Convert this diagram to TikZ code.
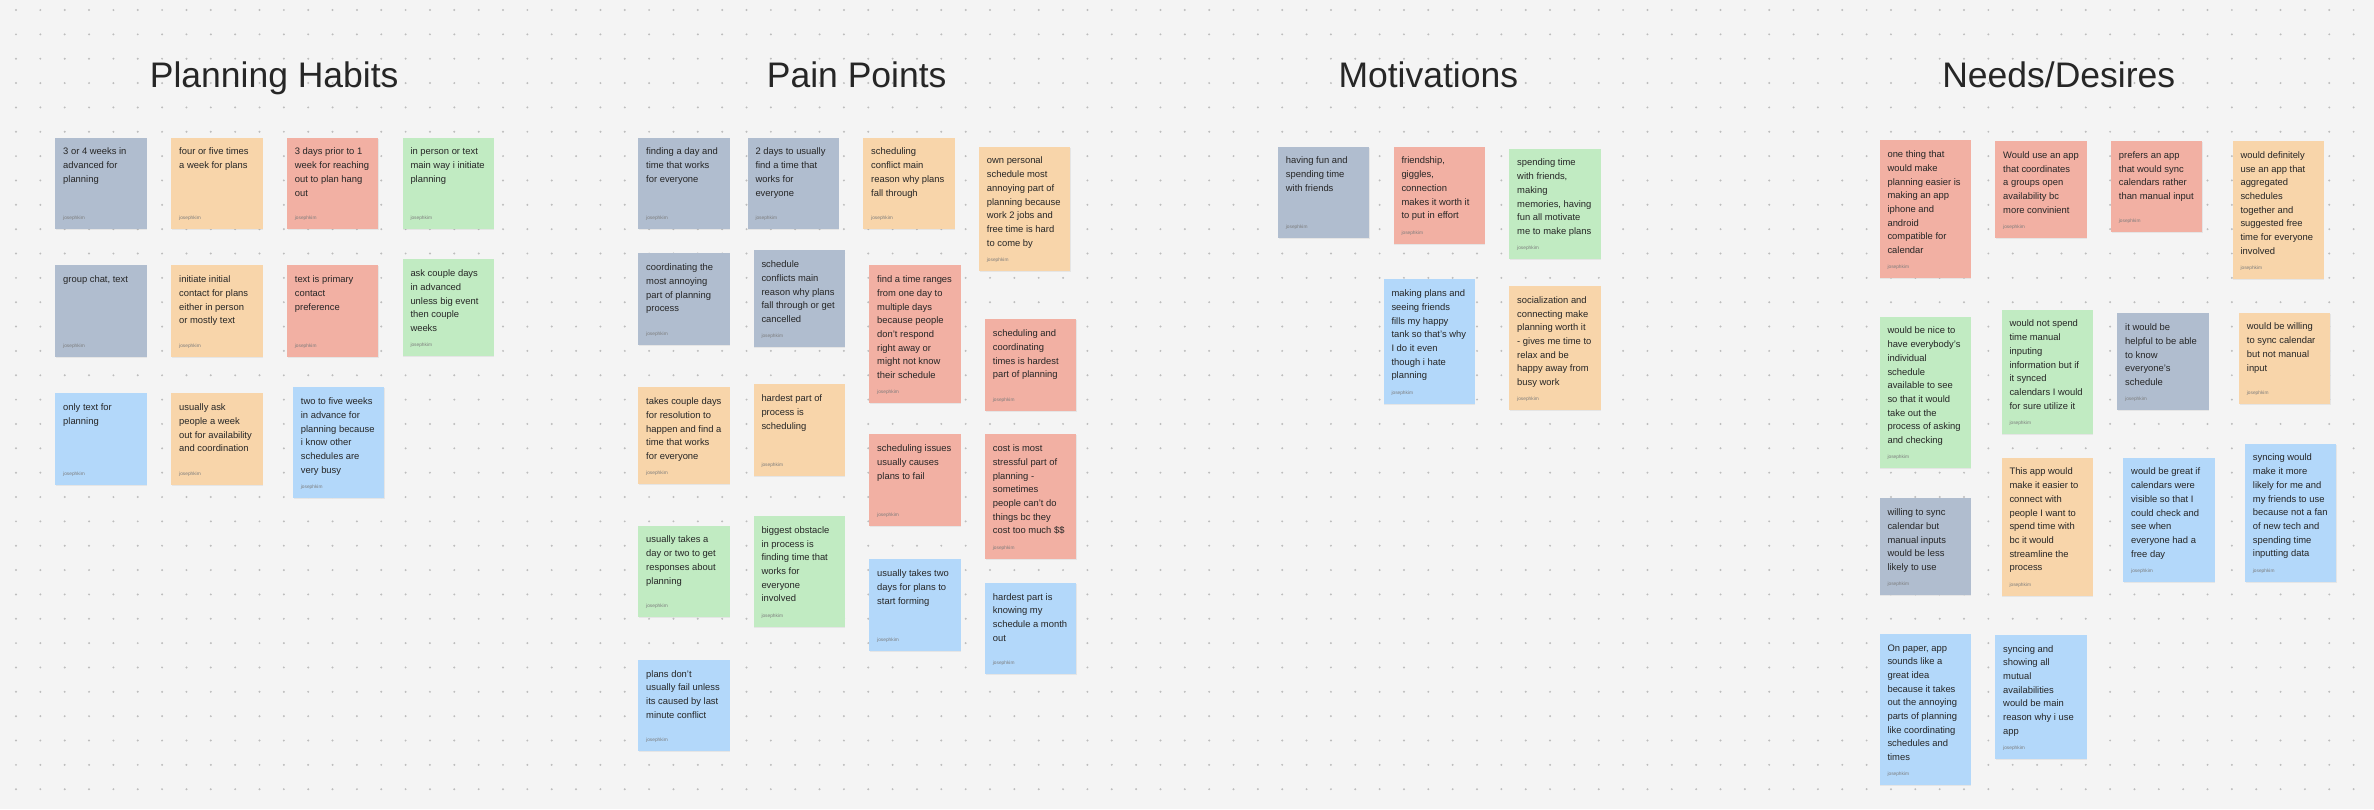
\documentclass[tikz,border=0pt]{standalone}
\usepackage{fontspec}
\setmainfont{Liberation Sans}
\usepackage{xcolor}
\usepackage{tikz}
\usetikzlibrary{positioning,shadows}
\definecolor{canvasbg}{HTML}{F4F4F4}
\definecolor{griddot}{HTML}{BDBDBD}
\definecolor{inkdark}{HTML}{262626}
\definecolor{inkgray}{HTML}{7C7C7C}
\definecolor{notegray}{HTML}{B0BDCF}
\definecolor{noteorange}{HTML}{F8D5AA}
\definecolor{notered}{HTML}{F2B0A3}
\definecolor{notegreen}{HTML}{C1EBC2}
\definecolor{noteblue}{HTML}{B3D8FA}

\begin{document}
\begin{tikzpicture}[
    x=1pt,y=-1pt,
    sticky/.style={anchor=north west,minimum width=91.3pt,inner sep=0pt,
      fill=note#1,
      drop shadow={shadow xshift=0.6pt,shadow yshift=-1pt,opacity=0.12}},
    stickytext/.style={inner sep=0pt,align=left,text=inkdark,
      font=\fontsize{9.4}{13.7}\selectfont},
    stickyfoot/.style={inner sep=0pt,text=inkgray,
      font=\fontsize{4.8}{6}\selectfont},
    heading/.style={anchor=base,text=inkdark,
      font=\fontsize{35.5}{42}\selectfont}
  ]
    \fill[canvasbg] (0,0) rectangle (2374,809);
    \useasboundingbox (0,0) rectangle (2374,809);
    % dotted canvas
    \foreach \gx in {0,...,96}
      \foreach \gy in {0,...,32}
        \fill[griddot] ({16+24.35*\gx},{10+24.35*\gy}) circle (1.1pt);
    % column headings
    \node[heading] (habits) at (274.2,87) {Planning Habits};
    \node[heading] (pains) at (856.7,87) {Pain Points};
    \node[heading] (motives) at (1428.3,87) {Motivations};
    \node[heading] (needs) at (2058.7,87) {Needs/Desires};
    % sticky notes: x/y/colour/lines/text
    \foreach \x/\y/\col/\n/\txt [count=\i] in {
      55/137.3/gray/3/{3 or 4 weeks in\\advanced for\\planning},
      171/137.3/orange/2/{four or five times\\a week for plans},
      286.7/137.3/red/4/{3 days prior to 1\\week for reaching\\out to plan hang\\out},
      402.3/137.3/green/3/{in person or text\\main way i initiate\\planning},
      55/265/gray/1/{group chat, text},
      171/265/orange/4/{initiate initial\\contact for plans\\either in person\\or mostly text},
      286.7/265/red/3/{text is primary\\contact\\preference},
      402.3/259/green/5/{ask couple days\\in advanced\\unless big event\\then couple\\weeks},
      55/393/blue/2/{only text for\\planning},
      171/393/orange/4/{usually ask\\people a week\\out for availability\\and coordination},
      292.7/387/blue/6/{two to five weeks\\in advance for\\planning because\\i know other\\schedules are\\very busy},
      638/137.3/gray/3/{finding a day and\\time that works\\for everyone},
      638/253/gray/4/{coordinating the\\most annoying\\part of planning\\process},
      638/387/orange/5/{takes couple days\\for resolution to\\happen and find a\\time that works\\for everyone},
      638/525.3/green/4/{usually takes a\\day or two to get\\responses about\\planning},
      638/659.3/blue/4/{plans don’t\\usually fail unless\\its caused by last\\minute conflict},
      747.3/137.3/gray/4/{2 days to usually\\find a time that\\works for\\everyone},
      753.3/250/gray/5/{schedule\\conflicts main\\reason why plans\\fall through or get\\cancelled},
      753.3/384/orange/3/{hardest part of\\process is\\scheduling},
      753.3/515.7/green/6/{biggest obstacle\\in process is\\finding time that\\works for\\everyone\\involved},
      863/137.3/orange/4/{scheduling\\conflict main\\reason why plans\\fall through},
      869/265/red/8/{find a time ranges\\from one day to\\multiple days\\because people\\don’t respond\\right away or\\might not know\\their schedule},
      869/434/red/3/{scheduling issues\\usually causes\\plans to fail},
      869/559/blue/3/{usually takes two\\days for plans to\\start forming},
      978.7/146.3/orange/7/{own personal\\schedule most\\annoying part of\\planning because\\work 2 jobs and\\free time is hard\\to come by},
      984.7/319/red/4/{scheduling and\\coordinating\\times is hardest\\part of planning},
      984.7/434/red/7/{cost is most\\stressful part of\\planning -\\sometimes\\people can’t do\\things bc they\\cost too much \$\$},
      984.7/582.3/blue/4/{hardest part is\\knowing my\\schedule a month\\out},
      1277.7/146.3/gray/3/{having fun and\\spending time\\with friends},
      1393.3/146.3/red/5/{friendship,\\giggles,\\connection\\makes it worth it\\to put in effort},
      1509/148.3/green/6/{spending time\\with friends,\\making\\memories, having\\fun all motivate\\me to make plans},
      1383.3/279/blue/7/{making plans and\\seeing friends\\fills my happy\\tank so that’s why\\I do it even\\though i hate\\planning},
      1509/285.7/orange/7/{socialization and\\connecting make\\planning worth it\\- gives me time to\\relax and be\\happy away from\\busy work},
      1879.3/140/red/8/{one thing that\\would make\\planning easier is\\making an app\\iphone and\\android\\compatible for\\calendar},
      1995/140.7/red/5/{Would use an app\\that coordinates\\a groups open\\availability bc\\more convinient},
      2110.7/140.7/red/4/{prefers an app\\that would sync\\calendars rather\\than manual input},
      2232.3/140.7/orange/8/{would definitely\\use an app that\\aggregated\\schedules\\together and\\suggested free\\time for everyone\\involved},
      1879.3/316.3/green/9/{would be nice to\\have everybody’s\\individual\\schedule\\available to see\\so that it would\\take out the\\process of asking\\and checking},
      2001.3/309.3/green/7/{would not spend\\time manual\\inputing\\information but if\\it synced\\calendars I would\\for sure utilize it},
      2117/313/gray/5/{it would be\\helpful to be able\\to know\\everyone’s\\schedule},
      2238.7/312.3/orange/4/{would be willing\\to sync calendar\\but not manual\\input},
      1879.3/498/gray/5/{willing to sync\\calendar but\\manual inputs\\would be less\\likely to use},
      2001.3/457.3/orange/8/{This app would\\make it easier to\\connect with\\people I want to\\spend time with\\bc it would\\streamline the\\process},
      2123/457.3/blue/7/{would be great if\\calendars were\\visible so that I\\could check and\\see when\\everyone had a\\free day},
      2244.7/443.3/blue/8/{syncing would\\make it more\\likely for me and\\my friends to use\\because not a fan\\of new tech and\\spending time\\inputting data},
      1879.3/633.3/blue/9/{On paper, app\\sounds like a\\great idea\\because it takes\\out the annoying\\parts of planning\\like coordinating\\schedules and\\times},
      1995/634.3/blue/7/{syncing and\\showing all\\mutual\\availabilities\\would be main\\reason why i use\\app}} {
      \pgfmathsetmacro{\h}{max(91.3,42.2+(\n-1)*13.7)}
      \node[sticky=\col,minimum height=\h pt] (note\i) at (\x,\y) {};
      \node[stickytext,below right=7.9pt and 8pt of note\i.north west]
        (notetext\i) {\strut\txt};
      \node[stickyfoot,above right=8.4pt and 8pt of note\i.south west]
        (notefoot\i) {josephkim};
    }
  \end{tikzpicture}
\end{document}
